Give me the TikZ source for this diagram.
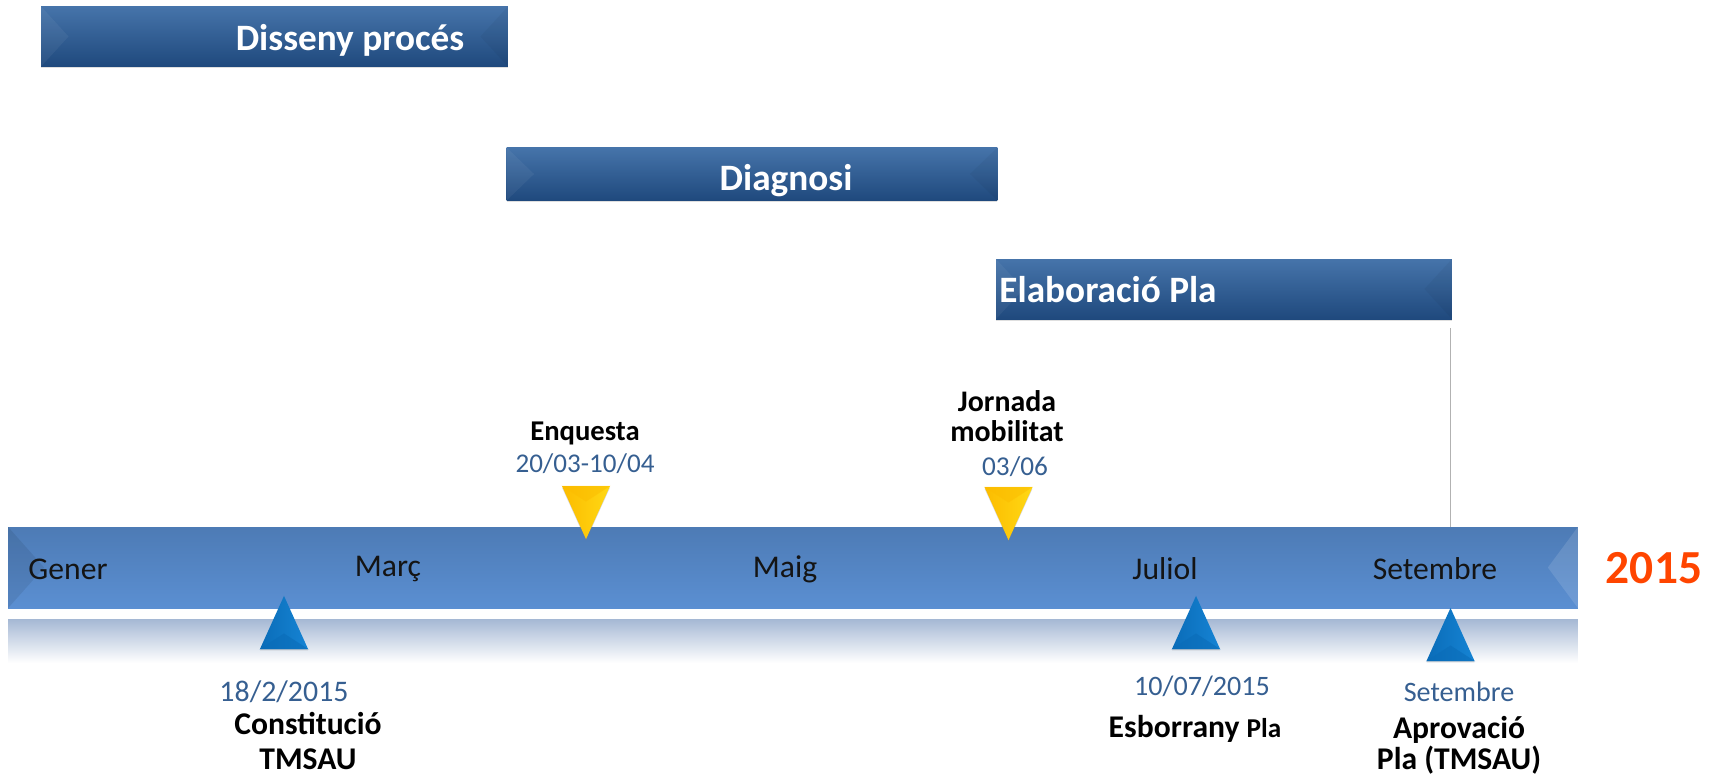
\documentclass[tikz,border=0pt]{standalone}
\usepackage{fontspec}
\setmainfont{Carlito}
\usetikzlibrary{shapes.geometric, shadows}
\definecolor{barTop}{RGB}{70, 116, 170}
\definecolor{barMid}{RGB}{42, 88, 142}
\definecolor{barBot}{RGB}{31, 73, 125}
\definecolor{lineTop}{RGB}{77, 123, 181}
\definecolor{lineBot}{RGB}{91, 143, 210}
\definecolor{glowTop}{RGB}{165, 184, 212}
\definecolor{dateblue}{RGB}{54, 95, 145}
\definecolor{yearorange}{RGB}{255, 69, 0}
\definecolor{markblue}{RGB}{22, 132, 212}
\definecolor{markdark}{RGB}{10, 108, 184}
\definecolor{markyellow}{RGB}{255, 216, 20}
\definecolor{markamber}{RGB}{252, 188, 0}

\begin{document}
\begin{tikzpicture}[
    x=0.02cm, y=-0.02cm,
    phasebar/.style={rectangle, inner sep=0pt, minimum height=1.2cm, top color=barTop, middle color=barMid, bottom color=barBot, drop shadow={opacity=0.25, shadow xshift=0pt, shadow yshift=-0.03cm},
        path picture={
            \fill[white, opacity=0.05] (path picture bounding box.north west) -- (path picture bounding box.south west) -- ([xshift=0.55cm]path picture bounding box.west) -- cycle;
            \fill[black, opacity=0.04] (path picture bounding box.north east) -- (path picture bounding box.south east) -- ([xshift=-0.55cm]path picture bounding box.east) -- cycle;
        }},
    phaselabel/.style={font=\fontsize{21.2}{25}\selectfont\bfseries, text=white, inner sep=0pt},
    timebar/.style={rectangle, inner sep=0pt, minimum width=31.4cm, minimum height=1.62cm, top color=lineTop, bottom color=lineBot,
        path picture={
            \fill[black, opacity=0.08] (path picture bounding box.north west) -- (path picture bounding box.south west) -- ([xshift=0.72cm]path picture bounding box.west) -- cycle;
            \fill[white, opacity=0.12] (path picture bounding box.north east) -- (path picture bounding box.south east) -- ([xshift=-0.6cm]path picture bounding box.east) -- cycle;
        }},
    month/.style={font=\fontsize{18}{21}\selectfont, text=black!92, inner sep=0pt},
    datelabel/.style={font=\fontsize{16}{20}\selectfont, text=dateblue, inner sep=0pt},
    eventlabel/.style={font=\fontsize{18}{17.6}\selectfont\bfseries, text=black, align=center, inner sep=0pt},
    markup/.style={isosceles triangle, isosceles triangle stretches, shape border rotate=90, anchor=apex, inner sep=0pt, minimum width=0.96cm, minimum height=1.06cm, left color=markdark, right color=markblue, drop shadow={opacity=0.3, shadow xshift=0pt, shadow yshift=-0.03cm}},
    markdown/.style={isosceles triangle, isosceles triangle stretches, shape border rotate=270, anchor=apex, inner sep=0pt, minimum width=0.96cm, minimum height=1.06cm, left color=markamber, right color=markyellow, drop shadow={opacity=0.3, shadow xshift=0pt, shadow yshift=-0.03cm}},
    facetup/.style={fill=markdark, opacity=0.6},
    facetdown/.style={fill=markamber, opacity=0.5}
]
\useasboundingbox (0,0) rectangle (1719,775);

% Phase bars
\node[phasebar, minimum width=9.34cm] (disseny) at (274.5,36.5) {};
\node[phaselabel] (dissenytxt) at (350,40) {Disseny procés};
\node[phasebar, minimum width=9.82cm, minimum height=1.06cm] (diagnosi) at (752,174) {};
\node[phaselabel] (diagnositxt) at (786,181) {Diagnosi};
\node[phasebar, minimum width=9.12cm] (elabora) at (1224,289) {};
\node[phaselabel] (elaboratxt) at (1108,290) {Elaboració Pla};

% Timeline
\node[inner sep=0pt, minimum width=31.4cm, minimum height=0.88cm, top color=glowTop, bottom color=white] (glow) at (793,641) {};
\node[timebar] (timeline) at (793,567.5) {};
\coordinate (aprovatop) at (1450,328);
\draw[black!30, line width=0.5pt] (aprovatop) -- (aprovatop |- timeline.north);

\node[month] (gener) at (68,569) {Gener};
\node[month] (marc) at (388,569) {Març};
\node[month] (maig) at (785,569) {Maig};
\node[month] (juliol) at (1165,569) {Juliol};
\node[month] (setembre) at (1435,569) {Setembre};
\node[font=\fontsize{27}{32}\selectfont\bfseries, text=yearorange, inner sep=0pt] (year) at (1654,568) {2015};

% Milestones above
\node[markdown] (enquesta) at (586,540) {};
\node[markdown] (jornada) at (1008.5,541) {};
\fill[facetdown] (enquesta.left corner) -- (enquesta.right corner) -- (enquesta.center) -- cycle;
\fill[facetdown] (jornada.left corner) -- (jornada.right corner) -- (jornada.center) -- cycle;
\node[eventlabel, font=\fontsize{16.3}{17}\selectfont\bfseries] (enquestatxt) at (585,433) {Enquesta};
\node[datelabel, font=\fontsize{15.4}{20}\selectfont] (enquestadate) at (585,464) {20/03-10/04};
\node[eventlabel, font=\fontsize{17}{17}\selectfont\bfseries] (jornadatxt) at (1007,416) {Jornada\\mobilitat};
\node[datelabel, font=\fontsize{15.5}{20}\selectfont] (jornadadate) at (1015,467) {03/06};

% Milestones below
\node[markup] (constitucio) at (284,595) {};
\node[markup] (esborrany) at (1196,595) {};
\node[markup] (aprovacio) at (1450.5,607) {};
\fill[facetup] (constitucio.left corner) -- (constitucio.right corner) -- (constitucio.center) -- cycle;
\fill[facetup] (esborrany.left corner) -- (esborrany.right corner) -- (esborrany.center) -- cycle;
\fill[facetup] (aprovacio.left corner) -- (aprovacio.right corner) -- (aprovacio.center) -- cycle;
\node[datelabel, font=\fontsize{17}{20}\selectfont] (constituciodate) at (284,692) {18/2/2015};
\node[eventlabel, font=\fontsize{18}{20}\selectfont\bfseries] (constituciotxt) at (308,741) {Constitució\\TMSAU};
\node[datelabel] (esborranydate) at (1202,686) {10/07/2015};
\node[eventlabel] (esborranytxt) at (1195,729) {Esborrany {\fontsize{15.5}{17}\selectfont Pla}};
\node[datelabel] (aprovaciodate) at (1459,692) {Setembre};
\node[eventlabel] (aprovaciotxt) at (1459,745) {Aprovació\\Pla (TMSAU)};

\end{tikzpicture}
\end{document}
